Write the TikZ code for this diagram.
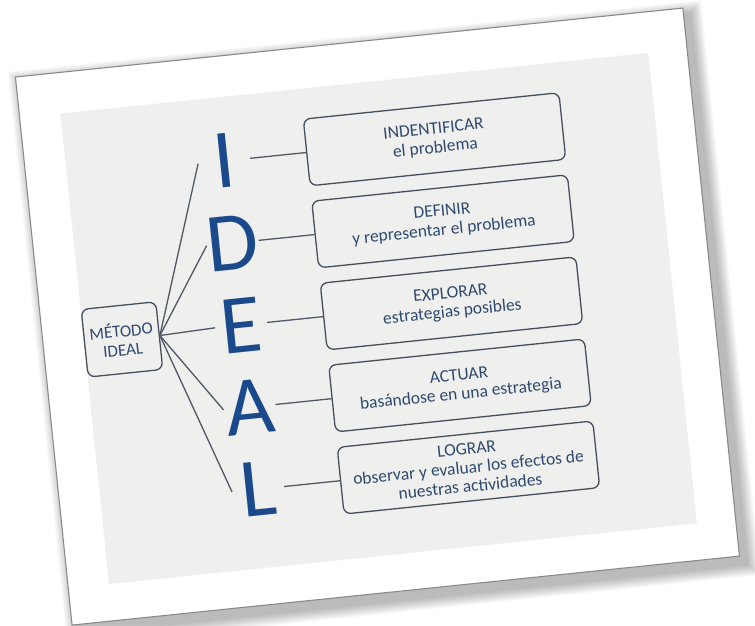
\documentclass[tikz,border=0pt]{standalone}
\usepackage{fontspec}
\setmainfont{Carlito}
\definecolor{letterblue}{HTML}{1B4A8C}
\definecolor{boxtext}{HTML}{2F4A6E}
\definecolor{boxline}{HTML}{44505E}
\definecolor{connline}{HTML}{4F5965}
\definecolor{panel}{HTML}{EFEFEE}
\definecolor{cardedge}{HTML}{8A8A8A}
\begin{document}
\begin{tikzpicture}[x=1pt,y=-1pt,
  letter/.style={font=\fontsize{84}{84}\selectfont, text=letterblue, minimum width=52pt, inner sep=0pt, text height=54pt, text depth=0pt},
  stepbox/.style={draw=boxline, line width=1.3pt, rounded corners=7pt, minimum width=257pt, minimum height=67pt, align=center, font=\fontsize{17.5}{19}\selectfont, text=boxtext, inner sep=0pt},
  conn/.style={draw=connline, line width=1.3pt}]
\useasboundingbox (0,0) rectangle (755,625);
\fill[white] (0,0) rectangle (755,625);
\begin{scope}[rotate around={5.9:(378,317)}, transform shape]
  % soft shadow
  \foreach \i in {1,...,12}{
    \fill[black, opacity=0.024] ({47-\i},{47-\i}) rectangle ({720+\i},{601+\i});
  }
  % card
  \fill[white] (42,41) rectangle (713,592);
  \draw[cardedge, line width=1.1pt] (42,41) rectangle (713,592);
  % panel
  \fill[panel] (83,82) rectangle (674,555);

  % centre box
  \node[stepbox, minimum width=75pt, minimum height=68pt, font=\fontsize{17}{19}\selectfont] (m) at (121,313) {MÉTODO\\IDEAL};

  % letters
  \node[letter] (lI) at (241,146) {I};
  \node[letter] (lD) at (241,228.5) {D};
  \node[letter] (lE) at (241,311) {E};
  \node[letter] (lA) at (241,393.5) {A};
  \node[letter] (lL) at (241,476) {L};

  % step boxes
  \node[stepbox] (b1) at (452.5,146) {INDENTIFICAR\\el problema};
  \node[stepbox] (b2) at (452.5,228.5) {DEFINIR\\y representar el problema};
  \node[stepbox] (b3) at (452.5,311) {EXPLORAR\\estrategias posibles};
  \node[stepbox] (b4) at (452.5,393.5) {ACTUAR\\basándose en una estrategia};
  \node[stepbox] (b5) at (452.5,476) {LOGRAR\\observar y evaluar los efectos de\\nuestras actividades};

  % connectors
  \foreach \l in {lI,lD,lE,lA,lL}{
    \draw[conn] (m.east) -- (\l.west);
  }
  \draw[conn] (lI.east) -- (b1.west);
  \draw[conn] (lD.east) -- (b2.west);
  \draw[conn] (lE.east) -- (b3.west);
  \draw[conn] (lA.east) -- (b4.west);
  \draw[conn] (lL.east) -- (b5.west);
\end{scope}
\end{tikzpicture}
\end{document}
